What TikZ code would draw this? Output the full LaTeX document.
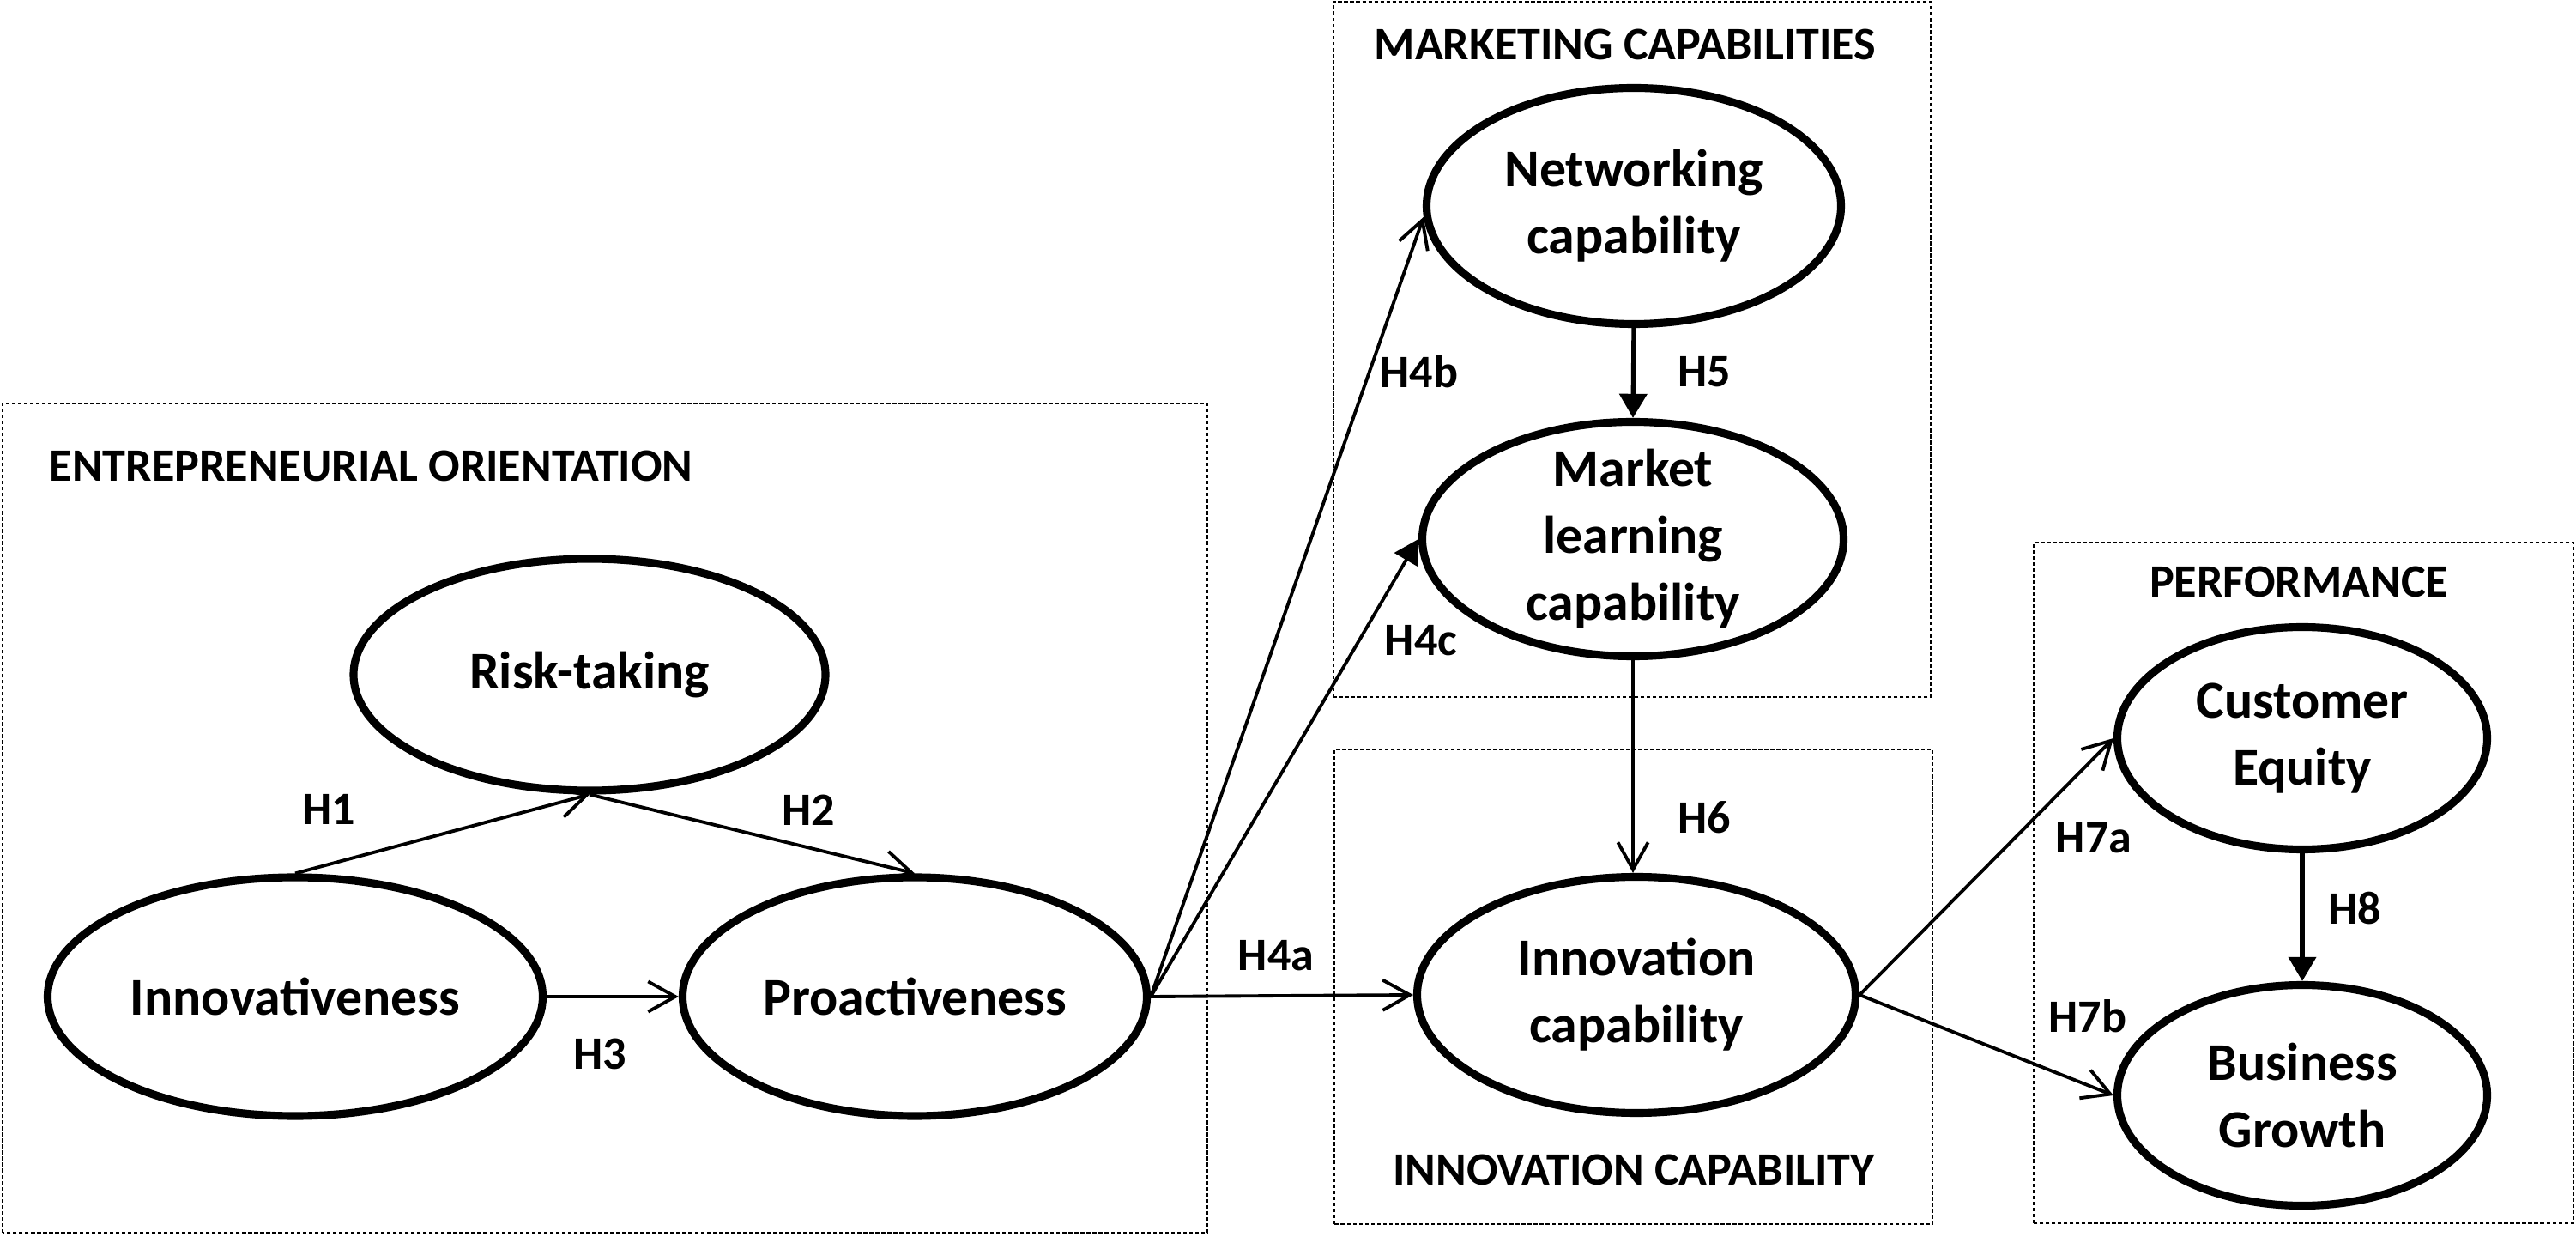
\documentclass[tikz,border=0pt]{standalone}
\usepackage{fontspec}
\setmainfont{Carlito}
\usetikzlibrary{shapes.geometric,arrows.meta}

\begin{document}
\begin{tikzpicture}[
    construct/.style={ellipse, draw, line width=2.6pt, inner xsep=0pt, inner ysep=-6pt, align=center,
        font=\fontsize{17.6}{22.2}\selectfont\bfseries},
    group/.style={draw, line width=0.6pt, dash pattern=on 1.2pt off 0.8pt},
    heading/.style={inner sep=0pt, font=\fontsize{15.4}{18}\selectfont\bfseries},
    hyp/.style={line width=1.1pt, -{Straight Barb[length=9pt,width=10pt]}},
    hypfill/.style={line width=1.5pt, -{Triangle[length=8pt,width=9pt]}}
]
\useasboundingbox (0,0) rectangle (30.02,14.40);

% dotted groups
\draw[group] (0.03,0.04) rectangle (14.07,9.70);
\draw[group] (15.54,6.28) rectangle (22.50,14.38);
\draw[group] (15.55,0.14) rectangle (22.52,5.67);
\draw[group] (23.70,0.15) rectangle (29.99,8.08);

\node[heading, anchor=west] (eoTitle) at (0.57,8.97) {ENTREPRENEURIAL ORIENTATION};
\node[heading] (mcTitle) at (18.94,13.88) {MARKETING CAPABILITIES};
\node[heading] (icTitle) at (19.04,0.77) {INNOVATION CAPABILITY};
\node[heading] (perfTitle) at (26.79,7.62) {PERFORMANCE};

% constructs
\node[construct, minimum width=5.50cm, minimum height=2.70cm] (risk) at (6.87,6.54) {Risk-taking};
\node[construct, minimum width=5.77cm, minimum height=2.78cm] (innov) at (3.44,2.79) {Innovativeness};
\node[construct, minimum width=5.41cm, minimum height=2.78cm] (pro) at (10.66,2.79) {Proactiveness};
\node[construct, minimum width=4.83cm, minimum height=2.75cm] (net) at (19.04,12.00) {Networking\\capability};
\node[construct, minimum width=4.91cm, minimum height=2.73cm] (mlc) at (19.03,8.12) {Market\\learning\\capability};
\node[construct, minimum width=5.11cm, minimum height=2.75cm] (icap) at (19.07,2.81) {Innovation\\capability};
\node[construct, minimum width=4.31cm, minimum height=2.59cm] (ceq) at (26.83,5.80) {Customer\\Equity};
\node[construct, minimum width=4.31cm, minimum height=2.57cm] (bgr) at (26.83,1.64) {Business\\Growth};

% hypotheses
\draw[hyp] (innov.north) -- (risk.south);
\draw[hyp] (risk.south) -- (pro.north);
\draw[hyp] (innov.east) -- (pro.west);
\draw[hyp] (pro.east) -- (icap.west);
\draw[hyp] (pro.east) -- (net.183);
\draw[line width=1.1pt, -{Triangle[length=8pt,width=9pt]}] (pro.east) -- (mlc.west);
\draw[hypfill] (net.south) -- (mlc.north);
\draw[hyp] (mlc.south) -- (mlc.south |- icap.north);
\draw[hyp] (icap.east) -- (ceq.west);
\draw[hyp] (icap.east) -- (bgr.west);
\draw[hypfill] (ceq.south) -- (bgr.north);

\node[heading] (h1) at (3.83,4.97) {H1};
\node[heading] (h2) at (9.42,4.96) {H2};
\node[heading] (h3) at (6.99,2.12) {H3};
\node[heading] (h4a) at (14.87,3.27) {H4a};
\node[heading] (h4b) at (16.54,10.07) {H4b};
\node[heading] (h4c) at (16.56,6.94) {H4c};
\node[heading] (h5) at (19.86,10.07) {H5};
\node[heading] (h6) at (19.86,4.88) {H6};
\node[heading] (h7a) at (24.40,4.64) {H7a};
\node[heading] (h7b) at (24.33,2.56) {H7b};
\node[heading] (h8) at (27.44,3.82) {H8};
\end{tikzpicture}
\end{document}
